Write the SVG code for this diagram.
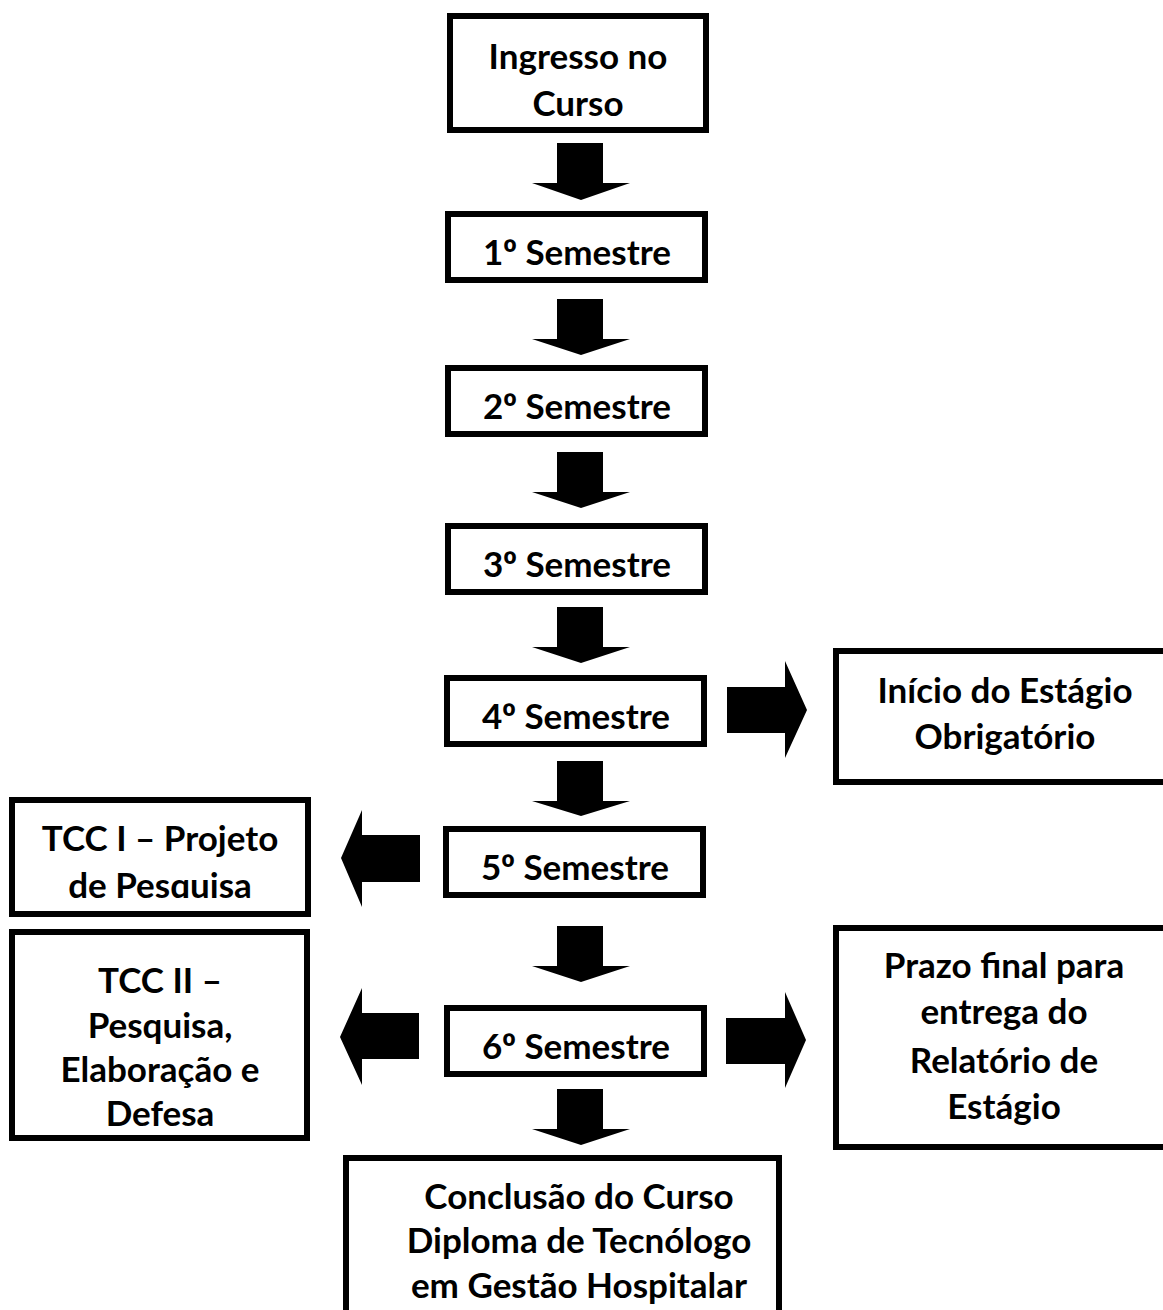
<svg xmlns="http://www.w3.org/2000/svg" width="1163" height="1310" viewBox="0 0 1163 1310">
<defs>
<style>
.box{fill:#fff;stroke:#000;stroke-width:6}
.t{font-family:Lato,"Open Sans","Liberation Sans",sans-serif;font-weight:bold;font-size:35px;fill:#000;text-anchor:middle}
.o{font-family:"Open Sans","DejaVu Sans",sans-serif}
.arr{fill:#000;stroke:none}
</style>
<clipPath id="clipTcc1"><rect x="12" y="800" width="296" height="98"/></clipPath>
</defs>
<rect width="1163" height="1310" fill="#fff"/>
<g id="connectors">
<path class="arr" d="M557 143H603V183H630L581 200L532 183H557Z"/>
<path class="arr" d="M557 299H603V339H630L581 355L532 339H557Z"/>
<path class="arr" d="M557 452H603V492H630L581 508L532 492H557Z"/>
<path class="arr" d="M557 607H603V647H630L581 663L532 647H557Z"/>
<path class="arr" d="M557 761H603V801H630L581 816L532 801H557Z"/>
<path class="arr" d="M557 926H603V966H630L581 982L532 966H557Z"/>
<path class="arr" d="M557 1089H603V1129H630L581 1145L532 1129H557Z"/>
<path class="arr" d="M727 687H785V661L807 710L785 758V733H727Z"/>
<path class="arr" d="M726 1018H785V992L806 1040L785 1088V1064H726Z"/>
<path class="arr" d="M420 835H362V810L341 858L362 907V882H420Z"/>
<path class="arr" d="M419 1013H362V988L340 1037L362 1085V1059H419Z"/>
</g>
<g id="ingresso"><rect class="box" x="450" y="16" width="256" height="114"/>
<text class="t" x="578" y="69">Ingresso no</text><text class="t" x="578" y="116">Curso</text></g>
<g id="sem1"><rect class="box" x="448" y="214" width="257" height="66"/><text class="t" x="577" y="265">1<tspan class="o">º</tspan> Semestre</text></g>
<g id="sem2"><rect class="box" x="448" y="368" width="257" height="66"/><text class="t" x="577" y="419">2<tspan class="o">º</tspan> Semestre</text></g>
<g id="sem3"><rect class="box" x="448" y="526" width="257" height="66"/><text class="t" x="577" y="577">3<tspan class="o">º</tspan> Semestre</text></g>
<g id="sem4"><rect class="box" x="447" y="678" width="257" height="66"/><text class="t" x="576" y="729">4<tspan class="o">º</tspan> Semestre</text></g>
<g id="sem5"><rect class="box" x="446" y="829" width="257" height="66"/><text class="t" x="575" y="880">5<tspan class="o">º</tspan> Semestre</text></g>
<g id="sem6"><rect class="box" x="447" y="1008" width="257" height="66"/><text class="t" x="576" y="1059">6<tspan class="o">º</tspan> Semestre</text></g>
<g id="estagio"><rect class="box" x="836" y="651" width="340" height="131"/>
<text class="t" x="1005" y="703">Início do Estágio</text><text class="t" x="1005" y="749">Obrigatório</text></g>
<g id="prazo"><rect class="box" x="836" y="928" width="340" height="219"/>
<text class="t" x="1004" y="978">Prazo final para</text><text class="t" x="1004" y="1024">entrega do</text><text class="t" x="1004" y="1073">Relatório de</text><text class="t" x="1004" y="1119">Estágio</text></g>
<g id="tcc1"><rect class="box" x="12" y="800" width="296" height="114"/>
<g clip-path="url(#clipTcc1)"><text class="t" x="160" y="851">TCC I – Projeto</text><text class="t" x="160" y="898">de Pesquisa</text></g></g>
<g id="tcc2"><rect class="box" x="12" y="932" width="295" height="206"/>
<text class="t" x="160" y="993">TCC II –</text><text class="t" x="160" y="1038">Pesquisa,</text><text class="t" x="160" y="1082">Elaboração e</text><text class="t" x="160" y="1126">Defesa</text></g>
<g id="conclusao"><rect class="box" x="346" y="1158" width="433" height="170"/>
<text class="t" x="579" y="1209">Conclusão do Curso</text><text class="t" x="579" y="1253">Diploma de Tecnólogo</text><text class="t" x="579" y="1298">em Gestão Hospitalar</text></g>
</svg>
